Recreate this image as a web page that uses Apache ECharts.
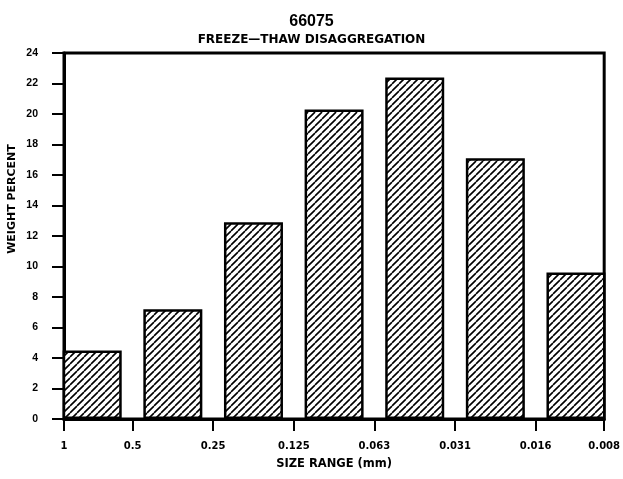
<!DOCTYPE html>
<html>
<head>
<meta charset="utf-8">
<script src="https://cdn.jsdelivr.net/npm/echarts@6/dist/echarts.min.js"></script>
<style>
  html, body { margin: 0; padding: 0; background: #fff; }
  #chart { width: 623px; height: 479px; }
</style>
</head>
<body>
<div id="chart"></div>
<script>
// Sample 66075, freeze-thaw disaggregation: weight percent per sieve size range
const sizeBounds = ['1', '0.5', '0.25', '0.125', '0.063', '0.031', '0.016', '0.008'];
const weightPercent = [4.5, 7.2, 12.9, 20.3, 22.4, 17.1, 9.6];
const yTicks = { min: 0, max: 24, step: 2 };

// Size-class positions on the x scale: boundary k sits at k, class i is centred at i + 0.5.
// The outermost boundaries are pulled in to the frame edges.
const xMin = 0.15, xMax = 6.85;
const boundaryPos = sizeBounds.map((_, k) => (k === 0 ? xMin : k === sizeBounds.length - 1 ? xMax : k));
const barData = weightPercent.map((v, i) => [i + 0.5, v]);

// Diagonal hatching tile for the bars
function hatchPattern(size, lineWidth) {
  const c = document.createElement('canvas');
  c.width = size; c.height = size;
  const g = c.getContext('2d');
  g.fillStyle = '#fff';
  g.fillRect(0, 0, size, size);
  g.strokeStyle = '#000';
  g.lineWidth = lineWidth;
  g.beginPath();
  for (let o = -size; o <= size; o += size) {
    g.moveTo(o, size);
    g.lineTo(o + size, 0);
  }
  g.stroke();
  return c;
}

const chart = echarts.init(document.getElementById('chart'), null, { renderer: 'canvas' });
const boldSans = 'Liberation Sans, Arial, Helvetica, sans-serif';
const wideSans = 'DejaVu Sans, Verdana, sans-serif';

chart.setOption({
  animation: false,
  backgroundColor: '#fff',
  title: [
    {
      text: '66075',
      left: 'center',
      top: 9,
      textStyle: { fontFamily: boldSans, fontWeight: 'bold', fontSize: 16, color: '#000' }
    },
    {
      text: 'FREEZE—THAW DISAGGREGATION',
      left: 'center',
      top: 29,
      textStyle: { fontFamily: wideSans, fontWeight: 'bold', fontSize: 12, color: '#000' }
    }
  ],
  graphic: [
    {
      type: 'text',
      x: 12.5,
      y: 199,
      rotation: Math.PI / 2,
      style: {
        text: 'WEIGHT PERCENT',
        fontFamily: wideSans,
        fontWeight: 'bold',
        fontSize: 11,
        fill: '#000',
        align: 'center',
        verticalAlign: 'middle'
      }
    }
  ],
  grid: {
    left: 64,
    right: 16,
    top: 53,
    bottom: 60,
    show: true,
    borderColor: '#000',
    borderWidth: 3,
    backgroundColor: 'transparent'
  },
  xAxis: {
    type: 'value',
    min: xMin,
    max: xMax,
    name: 'SIZE RANGE (mm)',
    nameLocation: 'middle',
    nameGap: 39,
    nameTextStyle: { fontFamily: wideSans, fontWeight: 'bold', fontSize: 11.5, color: '#000' },
    axisLine: { show: true, onZero: false, lineStyle: { color: '#000', width: 3 } },
    axisTick: {
      show: true,
      customValues: boundaryPos,
      length: 12,
      lineStyle: { color: '#000', width: 2 }
    },
    axisLabel: {
      customValues: boundaryPos,
      margin: 22,
      fontFamily: wideSans,
      fontWeight: 'bold',
      fontSize: 10,
      color: '#000',
      formatter: v => {
        const k = boundaryPos.findIndex(p => Math.abs(p - v) < 1e-6);
        return k >= 0 ? sizeBounds[k] : '';
      }
    },
    splitLine: { show: false }
  },
  yAxis: {
    type: 'value',
    min: yTicks.min,
    max: yTicks.max,
    interval: yTicks.step,
    axisLine: { show: true, lineStyle: { color: '#000', width: 3 } },
    axisTick: { show: true, length: 12, lineStyle: { color: '#000', width: 2 } },
    axisLabel: {
      margin: 26,
      fontFamily: boldSans,
      fontWeight: 'bold',
      fontSize: 10.5,
      color: '#000'
    },
    splitLine: { show: false }
  },
  series: [
    {
      type: 'bar',
      data: barData,
      barWidth: 59,
      clip: true,
      itemStyle: {
        color: { image: hatchPattern(7, 1.6), repeat: 'repeat' },
        borderColor: '#000',
        borderWidth: 2.5
      }
    }
  ]
});
</script>
</body>
</html>
